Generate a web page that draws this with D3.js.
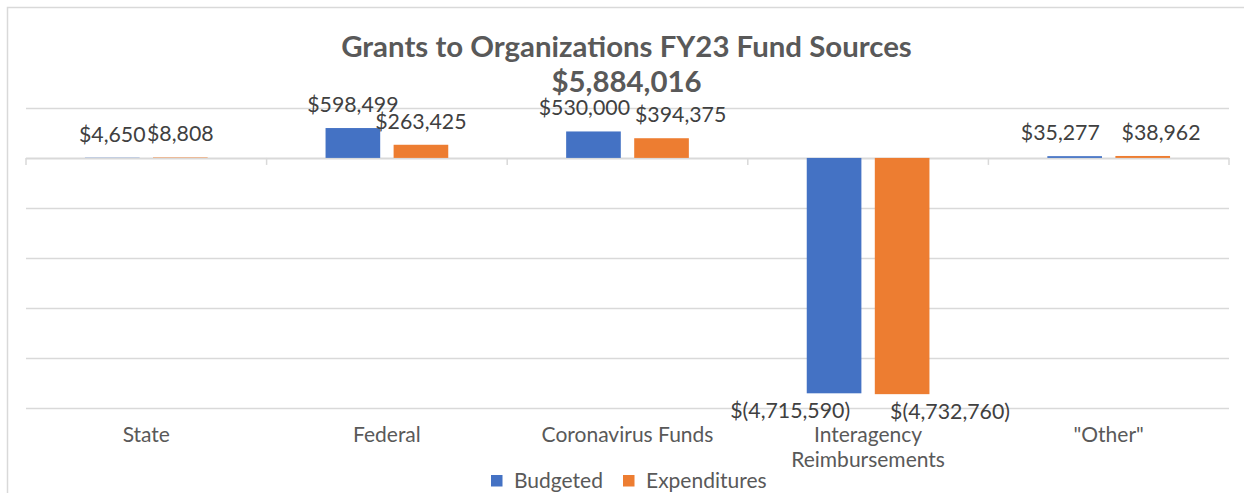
<!DOCTYPE html>
<html>
<head>
<meta charset="utf-8">
<script src="https://cdn.jsdelivr.net/npm/d3@7/dist/d3.min.js"></script>
<style>
  html, body { margin: 0; padding: 0; background: #fff; }
  svg { display: block; font-family: Lato, "Open Sans", sans-serif; }
</style>
</head>
<body>
<svg id="chart" width="1244" height="493"></svg>
<script>
const categories = ["State", "Federal", "Coronavirus Funds", "Interagency Reimbursements", "\"Other\""];
const categoryLines = [["State"], ["Federal"], ["Coronavirus Funds"], ["Interagency", "Reimbursements"], ["\"Other\""]];
const seriesNames = ["Budgeted", "Expenditures"];
const budgeted = [4650, 598499, 530000, -4715590, 35277];
const expenditures = [8808, 263425, 394375, -4732760, 38962];
const yTicks = [1000000, 0, -1000000, -2000000, -3000000, -4000000, -5000000];
const titleLines = ["Grants to Organizations FY23 Fund Sources", "$5,884,016"];
const colors = ["#4472C4", "#ED7D31"];

const seriesValues = [budgeted, expenditures];
const svg = d3.select("#chart");

// chart border
svg.append("rect").attr("x", 7.5).attr("y", 7.5).attr("width", 1260).attr("height", 520)
  .attr("fill", "#fff").attr("stroke", "#d9d9d9").attr("stroke-width", 1.5);

const x0 = d3.scaleBand().domain(categories).range([26, 1229]).paddingInner(0).paddingOuter(0);
const bw = x0.bandwidth();
const x1 = d3.scaleBand().domain(seriesNames).range([bw * 0.245, bw * 0.755]).paddingInner(0.197).paddingOuter(0);
const y = d3.scaleLinear().domain([-5000000, 1000000]).range([407.5, 108]);

// gridlines
svg.append("g").selectAll("line").data(yTicks).join("line")
  .attr("x1", 26).attr("x2", 1229)
  .attr("y1", d => Math.round(y(d)) + 0.5).attr("y2", d => Math.round(y(d)) + 0.5)
  .attr("stroke", "#d9d9d9").attr("stroke-width", d => d === 0 ? 1.8 : 1.3);

// category ticks at boundaries
const bounds = categories.map(c => x0(c)).concat([x0(categories[categories.length - 1]) + bw]);
svg.append("g").selectAll("line").data(bounds).join("line")
  .attr("x1", d => d).attr("x2", d => d)
  .attr("y1", y(0)).attr("y2", y(0) + 7)
  .attr("stroke", "#d9d9d9").attr("stroke-width", 1.5);

const fmtNum = d3.format(",");
const fmt = v => v < 0 ? "$(" + fmtNum(-v) + ")" : "$" + fmtNum(v);

// bars
const groups = svg.append("g").selectAll("g").data(categories).join("g")
  .attr("transform", c => `translate(${x0(c)},0)`);

groups.selectAll("rect").data((c, i) => seriesNames.map((s, j) => ({ s, j, v: seriesValues[j][i] })))
  .join("rect")
  .attr("x", d => x1(d.s))
  .attr("width", x1.bandwidth())
  .attr("y", d => y(Math.max(0, d.v)))
  .attr("height", d => Math.abs(y(d.v) - y(0)))
  .attr("fill", d => colors[d.j]);

// data labels
const labelGroups = groups.append("g");
labelGroups.each(function (c, i) {
  const g = d3.select(this);
  const ys = [];
  const texts = seriesNames.map((s, j) => {
    const v = seriesValues[j][i];
    const cx = x1(s) + x1.bandwidth() / 2;
    const ty = v >= 0 ? y(v) - 16 : y(v) + 24.5;
    ys.push(ty);
    return g.append("text")
      .attr("x", cx).attr("y", ty)
      .attr("text-anchor", "middle")
      .attr("font-size", 21.3).attr("fill", "#404040")
      .text(fmt(v));
  });
  // push apart clearly overlapping labels that share (nearly) a line
  const n0 = texts[0].node(), n1 = texts[1].node();
  const b0 = n0.getBBox(), b1 = n1.getBBox();
  const dy = Math.abs(ys[0] - ys[1]);
  const overlap = b0.x + b0.width - b1.x;
  if (dy < 10 && overlap > 6) {
    const gap = dy < 2 ? Math.min(40, 2 * overlap) : 5;
    const mid = (b0.x + b0.width / 2 + b1.x + b1.width / 2) / 2 + (dy < 2 ? 2 : 5);
    texts[0].attr("x", mid - gap / 2 - b0.width / 2);
    texts[1].attr("x", mid + gap / 2 + b1.width / 2);
  }
});

// category labels
svg.append("g").selectAll("text").data(categories).join("text")
  .attr("x", c => x0(c) + bw / 2)
  .attr("y", 442)
  .attr("text-anchor", "middle")
  .attr("font-size", 21).attr("fill", "#595959")
  .each(function (c, i) {
    const t = d3.select(this);
    categoryLines[i].forEach((line, k) => {
      t.append("tspan").attr("x", x0(c) + bw / 2).attr("dy", k === 0 ? 0 : 25).text(line);
    });
  });

// title
svg.append("g").selectAll("text").data(titleLines).join("text")
  .attr("x", 626.5)
  .attr("y", (d, i) => i === 0 ? 56.5 : 91.5)
  .attr("text-anchor", "middle")
  .attr("font-size", 29.4).attr("font-weight", "bold").attr("fill", "#595959")
  .text(d => d);

// legend
const legendX = [491, 623];
const legend = svg.append("g").selectAll("g").data(seriesNames).join("g")
  .attr("transform", (d, i) => `translate(${legendX[i]},0)`);
legend.append("rect").attr("x", 0).attr("y", 475).attr("width", 11.5).attr("height", 11.5)
  .attr("fill", (d, i) => colors[i]);
legend.append("text").attr("x", 23).attr("y", 487.5)
  .attr("font-size", 21).attr("fill", "#595959").text(d => d);
</script>
</body>
</html>
